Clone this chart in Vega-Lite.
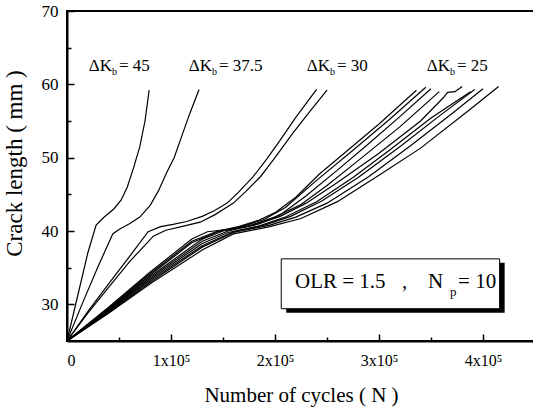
{
  "$schema": "https://vega.github.io/schema/vega-lite/v6.json",
  "width": 468,
  "height": 330,
  "autosize": "none",
  "padding": {"left": 67, "top": 11, "right": 0, "bottom": 73},
  "background": "white",
  "config": {
    "view": {"stroke": "black", "strokeWidth": 2},
    "font": "Liberation Serif",
    "text": {"font": "Liberation Serif", "color": "black"}
  },
  "datasets": {
    "curves": [
      {"s":"45","n":0,"a":25},{"s":"45","n":10000,"a":31},{"s":"45","n":20000,"a":37},{"s":"45","n":28000,"a":40.8},{"s":"45","n":35000,"a":41.8},{"s":"45","n":45000,"a":43.0},{"s":"45","n":52000,"a":44.2},{"s":"45","n":58000,"a":46.0},{"s":"45","n":64000,"a":48.6},{"s":"45","n":70000,"a":51.5},{"s":"45","n":75000,"a":55},{"s":"45","n":79000,"a":59.2},
      {"s":"37.5","n":0,"a":25},{"s":"37.5","n":15000,"a":30.2},{"s":"37.5","n":30000,"a":35.2},{"s":"37.5","n":44000,"a":39.6},{"s":"37.5","n":50000,"a":40.2},{"s":"37.5","n":60000,"a":41.0},{"s":"37.5","n":70000,"a":41.9},{"s":"37.5","n":80000,"a":43.5},{"s":"37.5","n":88000,"a":45.5},{"s":"37.5","n":96000,"a":48},{"s":"37.5","n":103000,"a":50},{"s":"37.5","n":110000,"a":52.8},{"s":"37.5","n":118000,"a":56},{"s":"37.5","n":127000,"a":59.3},
      {"s":"30a","n":0,"a":25},{"s":"30a","n":20000,"a":29},{"s":"30a","n":40000,"a":32.8},{"s":"30a","n":60000,"a":36.5},{"s":"30a","n":78000,"a":39.9},{"s":"30a","n":90000,"a":40.6},{"s":"30a","n":102000,"a":40.9},{"s":"30a","n":115000,"a":41.3},{"s":"30a","n":130000,"a":42},{"s":"30a","n":142000,"a":42.8},{"s":"30a","n":154000,"a":43.8},{"s":"30a","n":165000,"a":45.3},{"s":"30a","n":179000,"a":47.4},{"s":"30a","n":192000,"a":49.8},{"s":"30a","n":205000,"a":52.4},{"s":"30a","n":220000,"a":55.5},{"s":"30a","n":240000,"a":59.3},
      {"s":"30b","n":0,"a":25},{"s":"30b","n":20000,"a":28.8},{"s":"30b","n":40000,"a":32.3},{"s":"30b","n":60000,"a":35.8},{"s":"30b","n":83000,"a":39.3},{"s":"30b","n":95000,"a":40.1},{"s":"30b","n":110000,"a":40.6},{"s":"30b","n":128000,"a":41.2},{"s":"30b","n":142000,"a":42.2},{"s":"30b","n":160000,"a":43.8},{"s":"30b","n":172000,"a":45.4},{"s":"30b","n":186000,"a":47.4},{"s":"30b","n":200000,"a":50},{"s":"30b","n":217000,"a":53.3},{"s":"30b","n":233000,"a":56.2},{"s":"30b","n":250000,"a":59.2},
      {"s":"L1","n":0,"a":25},{"s":"L1","n":40000,"a":29.5},{"s":"L1","n":80000,"a":34.2},{"s":"L1","n":120000,"a":38.6},{"s":"L1","n":145000,"a":40},{"s":"L1","n":165000,"a":40.6},{"s":"L1","n":185000,"a":41.5},{"s":"L1","n":200000,"a":42.5},{"s":"L1","n":220000,"a":44.6},{"s":"L1","n":243000,"a":47.8},{"s":"L1","n":270000,"a":51},{"s":"L1","n":300000,"a":54.6},{"s":"L1","n":336000,"a":59.2},
      {"s":"L2","n":0,"a":25},{"s":"L2","n":40000,"a":29.4},{"s":"L2","n":80000,"a":34},{"s":"L2","n":120000,"a":38.4},{"s":"L2","n":145000,"a":39.9},{"s":"L2","n":170000,"a":40.7},{"s":"L2","n":190000,"a":41.6},{"s":"L2","n":210000,"a":43.2},{"s":"L2","n":240000,"a":46.9},{"s":"L2","n":275000,"a":51},{"s":"L2","n":310000,"a":55.2},{"s":"L2","n":345000,"a":59.6},
      {"s":"L9","n":0,"a":25},{"s":"L9","n":40000,"a":29.6},{"s":"L9","n":80000,"a":34.4},{"s":"L9","n":120000,"a":38.9},{"s":"L9","n":135000,"a":39.9},{"s":"L9","n":160000,"a":40.3},{"s":"L9","n":185000,"a":41.0},{"s":"L9","n":205000,"a":42.2},{"s":"L9","n":230000,"a":44.8},{"s":"L9","n":260000,"a":48.3},{"s":"L9","n":290000,"a":51.9},{"s":"L9","n":320000,"a":55.6},{"s":"L9","n":350000,"a":59.4},
      {"s":"L3","n":0,"a":25},{"s":"L3","n":40000,"a":29.3},{"s":"L3","n":80000,"a":33.8},{"s":"L3","n":130000,"a":38.9},{"s":"L3","n":150000,"a":40},{"s":"L3","n":175000,"a":40.7},{"s":"L3","n":200000,"a":41.9},{"s":"L3","n":225000,"a":43.6},{"s":"L3","n":250000,"a":46.2},{"s":"L3","n":280000,"a":49.6},{"s":"L3","n":320000,"a":54.2},{"s":"L3","n":358000,"a":59},
      {"s":"L4","n":0,"a":25},{"s":"L4","n":40000,"a":29.2},{"s":"L4","n":80000,"a":33.6},{"s":"L4","n":130000,"a":38.6},{"s":"L4","n":155000,"a":40},{"s":"L4","n":180000,"a":40.8},{"s":"L4","n":205000,"a":42},{"s":"L4","n":230000,"a":43.8},{"s":"L4","n":260000,"a":46.6},{"s":"L4","n":300000,"a":50.6},{"s":"L4","n":340000,"a":55},{"s":"L4","n":362000,"a":58.2},{"s":"L4","n":366000,"a":58.9},{"s":"L4","n":373000,"a":59.0},{"s":"L4","n":380000,"a":59.7},
      {"s":"L5","n":0,"a":25},{"s":"L5","n":40000,"a":29.1},{"s":"L5","n":80000,"a":33.4},{"s":"L5","n":130000,"a":38.3},{"s":"L5","n":155000,"a":39.8},{"s":"L5","n":185000,"a":40.7},{"s":"L5","n":210000,"a":41.9},{"s":"L5","n":240000,"a":44},{"s":"L5","n":275000,"a":47.3},{"s":"L5","n":310000,"a":51},{"s":"L5","n":350000,"a":55.4},{"s":"L5","n":388000,"a":59},
      {"s":"L6","n":0,"a":25},{"s":"L6","n":40000,"a":29.0},{"s":"L6","n":80000,"a":33.2},{"s":"L6","n":130000,"a":38.0},{"s":"L6","n":160000,"a":39.9},{"s":"L6","n":190000,"a":40.8},{"s":"L6","n":215000,"a":42},{"s":"L6","n":245000,"a":44.1},{"s":"L6","n":280000,"a":47.3},{"s":"L6","n":320000,"a":51.5},{"s":"L6","n":360000,"a":55.9},{"s":"L6","n":392000,"a":59.3},
      {"s":"L7","n":0,"a":25},{"s":"L7","n":40000,"a":28.9},{"s":"L7","n":80000,"a":33},{"s":"L7","n":130000,"a":37.8},{"s":"L7","n":160000,"a":39.8},{"s":"L7","n":195000,"a":40.8},{"s":"L7","n":220000,"a":41.9},{"s":"L7","n":250000,"a":43.8},{"s":"L7","n":290000,"a":47.4},{"s":"L7","n":330000,"a":51.6},{"s":"L7","n":370000,"a":56},{"s":"L7","n":400000,"a":59.4},
      {"s":"L8","n":0,"a":25},{"s":"L8","n":40000,"a":28.8},{"s":"L8","n":80000,"a":32.8},{"s":"L8","n":130000,"a":37.4},{"s":"L8","n":160000,"a":39.6},{"s":"L8","n":195000,"a":40.6},{"s":"L8","n":225000,"a":41.7},{"s":"L8","n":260000,"a":44},{"s":"L8","n":300000,"a":47.6},{"s":"L8","n":340000,"a":51.3},{"s":"L8","n":385000,"a":56.3},{"s":"L8","n":415000,"a":59.7}
    ],
    "labels": [
      {"k":"= 45","n":43300,"a":62.5},
      {"k":"= 37.5","n":139400,"a":62.5},
      {"k":"= 30","n":252900,"a":62.5},
      {"k":"= 25","n":368300,"a":62.5}
    ],
    "boxtext": [
      {"t":"OLR = 1.5","n":219200},
      {"t":",","n":322100},
      {"t":"N","n":347100},
      {"t":"= 10","n":376000}
    ]
  },
  "layer": [
    {
      "data": {"name": "curves"},
      "mark": {"type": "line", "color": "black", "strokeWidth": 1.2},
      "encoding": {
        "x": {
          "field": "n", "type": "quantitative",
          "scale": {"domain": [0, 450000], "nice": false, "zero": false},
          "axis": {
            "values": [0,50000,100000,150000,200000,250000,300000,350000,400000,450000],
            "labelExpr": "datum.value % 100000 ? '' : (datum.value == 0 ? '0' : (datum.value/100000) + 'x10⁵')",
            "grid": false,
            "domainColor": "black", "domainWidth": 2,
            "tickColor": "black", "tickWidth": 1.5,
            "tickSize": {"condition": {"test": "datum.value % 100000 === 0", "value": -7}, "value": -4},
            "labelPadding": 18,
            "labelFont": "Liberation Serif", "labelFontSize": 16, "labelColor": "black",
            "labelBaseline": "top",
            "title": "Number of cycles ( N )",
            "titleFont": "Liberation Serif", "titleFontSize": 21, "titleFontWeight": "normal", "titleColor": "black",
            "titleBaseline": "middle", "titleY": 54
          }
        },
        "y": {
          "field": "a", "type": "quantitative",
          "scale": {"domain": [25, 70], "nice": false, "zero": false},
          "axis": {
            "values": [30,35,40,45,50,55,60,65,70],
            "labelExpr": "datum.value % 10 ? '' : datum.value",
            "grid": false,
            "domainColor": "black", "domainWidth": 2,
            "tickColor": "black", "tickWidth": 1.5,
            "tickSize": {"condition": {"test": "datum.value % 10 === 0", "value": -7}, "value": -4},
            "labelPadding": 16,
            "labelFont": "Liberation Serif", "labelFontSize": 17, "labelColor": "black",
            "title": "Crack length ( mm )",
            "titleFont": "Liberation Serif", "titleFontSize": 23, "titleFontWeight": "normal", "titleColor": "black",
            "titleAngle": 270, "titleBaseline": "middle", "titleAlign": "center",
            "titleX": -53, "titleY": 152
          }
        },
        "detail": {"field": "s"}
      }
    },
    {
      "data": {"values": [{}]},
      "mark": {"type": "rect", "color": "black", "xOffset": 5, "x2Offset": 5, "yOffset": 4, "y2Offset": 4},
      "encoding": {
        "x": {"datum": 206000, "type": "quantitative"},
        "x2": {"datum": 416000},
        "y": {"datum": 36.2, "type": "quantitative"},
        "y2": {"datum": 29.4}
      }
    },
    {
      "data": {"values": [{}]},
      "mark": {"type": "rect", "fill": "white", "stroke": "black", "strokeWidth": 1},
      "encoding": {
        "x": {"datum": 206000, "type": "quantitative"},
        "x2": {"datum": 416000},
        "y": {"datum": 36.2, "type": "quantitative"},
        "y2": {"datum": 29.4}
      }
    },
    {
      "data": {"name": "boxtext"},
      "mark": {"type": "text", "align": "left", "baseline": "middle", "font": "Liberation Serif", "fontSize": 21, "color": "black"},
      "encoding": {
        "x": {"field": "n", "type": "quantitative"},
        "y": {"datum": 33.0, "type": "quantitative"},
        "text": {"field": "t", "type": "nominal"}
      }
    },
    {
      "data": {"values": [{}]},
      "mark": {"type": "text", "text": "p", "align": "left", "baseline": "middle", "dx": 22, "dy": 10, "font": "Liberation Serif", "fontSize": 13, "color": "black"},
      "encoding": {
        "x": {"datum": 347100, "type": "quantitative"},
        "y": {"datum": 33.0, "type": "quantitative"}
      }
    },
    {
      "data": {"name": "labels"},
      "mark": {"type": "text", "text": "ΔK", "align": "right", "baseline": "middle", "font": "Liberation Serif", "fontSize": 17, "color": "black"},
      "encoding": {
        "x": {"field": "n", "type": "quantitative"},
        "y": {"field": "a", "type": "quantitative"}
      }
    },
    {
      "data": {"name": "labels"},
      "mark": {"type": "text", "text": "b", "align": "left", "baseline": "middle", "dx": 0, "dy": 6, "font": "Liberation Serif", "fontSize": 10, "color": "black"},
      "encoding": {
        "x": {"field": "n", "type": "quantitative"},
        "y": {"field": "a", "type": "quantitative"}
      }
    },
    {
      "data": {"name": "labels"},
      "mark": {"type": "text", "align": "left", "baseline": "middle", "dx": 7, "font": "Liberation Serif", "fontSize": 17, "color": "black"},
      "encoding": {
        "x": {"field": "n", "type": "quantitative"},
        "y": {"field": "a", "type": "quantitative"},
        "text": {"field": "k", "type": "nominal"}
      }
    }
  ]
}
